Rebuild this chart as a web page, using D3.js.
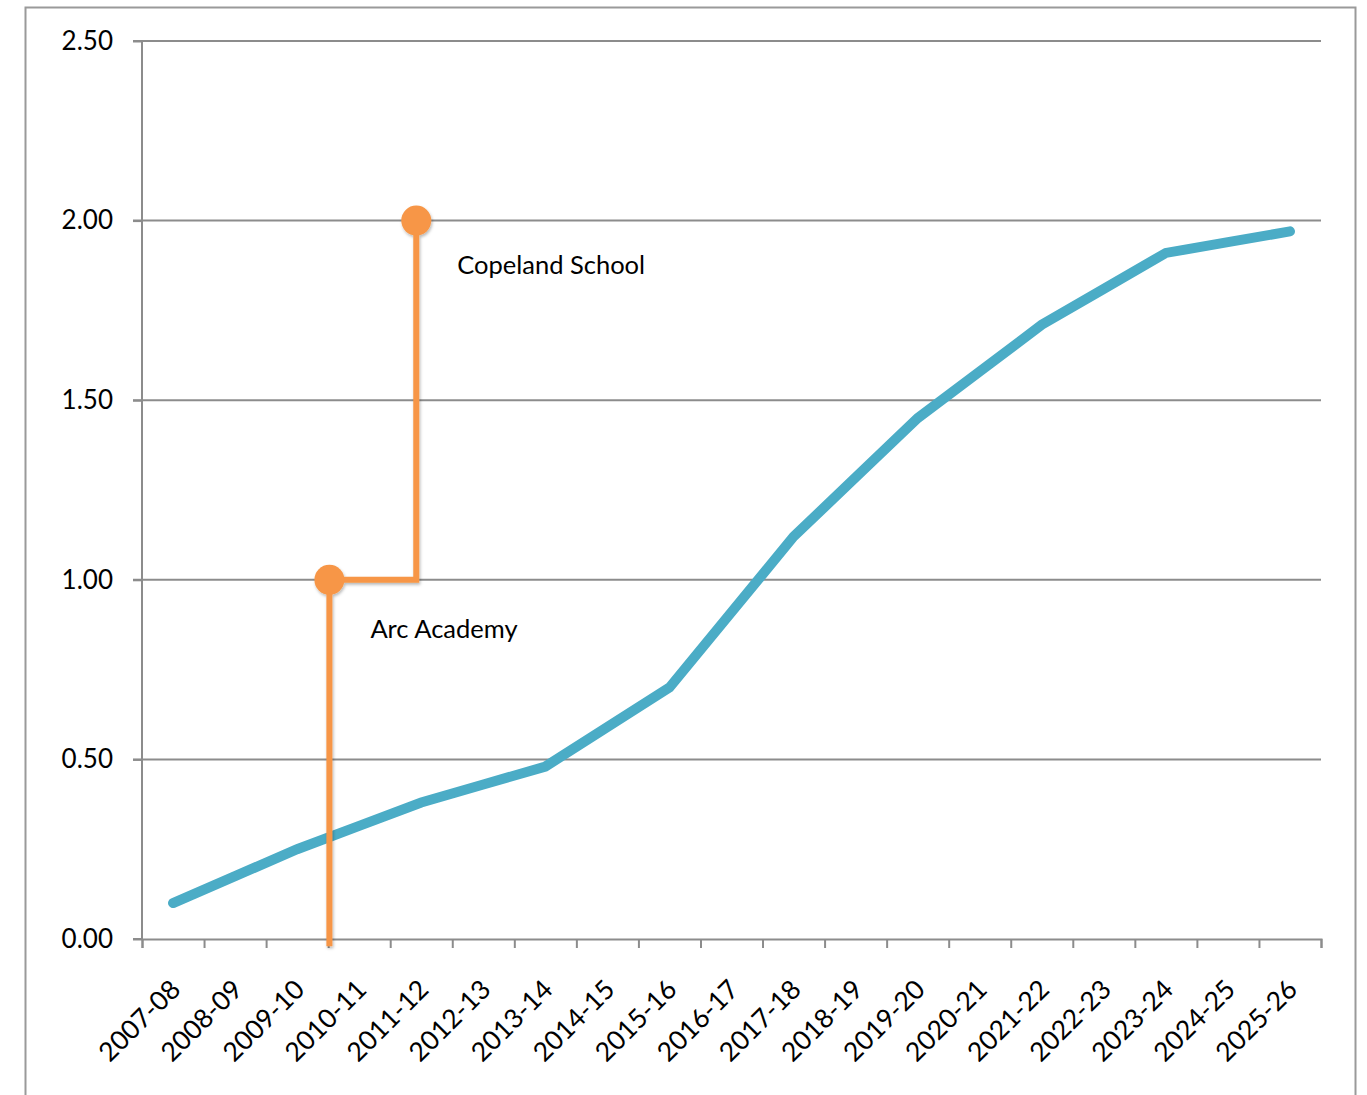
<!DOCTYPE html>
<html>
<head>
<meta charset="utf-8">
<script src="https://cdn.jsdelivr.net/npm/d3@7"></script>
<style>
  html, body { margin: 0; padding: 0; background: #fff; }
  svg { display: block; }
  text { font-family: Lato, "Open Sans", sans-serif; fill: #000; }
</style>
</head>
<body>
<svg id="chart" width="1367" height="1095"></svg>
<script>
// ---- data ----
const categories = ["2007-08","2008-09","2009-10","2010-11","2011-12","2012-13","2013-14",
  "2014-15","2015-16","2016-17","2017-18","2018-19","2019-20","2020-21","2021-22",
  "2022-23","2023-24","2024-25","2025-26"];
const values = [0.10, 0.175, 0.25, 0.315, 0.38, 0.43, 0.48, 0.59, 0.70, 0.91, 1.12,
  1.285, 1.45, 1.58, 1.71, 1.81, 1.91, 1.94, 1.97];
const yTicks = [0, 0.5, 1.0, 1.5, 2.0, 2.5];
const schoolNames = ["Arc Academy", "Copeland School"];
const schoolPos = [3.02, 4.42];      // position along the category axis (category index units)
const schoolValues = [1.0, 2.0];
const stepStart = -0.02;             // orange line starts just below zero

// ---- layout ----
const svg = d3.select("#chart");
const mLeft = 142, mRight = 1321, mTop = 41, mBottom = 939;
const labelDy = [52, 47];

const x = d3.scaleLinear().domain([0, categories.length]).range([mLeft, mRight]);
const y = d3.scaleLinear().domain([0, 2.5]).range([mBottom, mTop]);

// outer frame
svg.append("rect")
  .attr("x", 25.5).attr("y", 7.5).attr("width", 1330).attr("height", 1200)
  .attr("fill", "none").attr("stroke", "#9a9a9a").attr("stroke-width", 2);

// drop shadow filter
const defs = svg.append("defs");
const f = defs.append("filter").attr("id", "shadow").attr("x", "-50%").attr("y", "-50%")
  .attr("width", "200%").attr("height", "200%");
f.append("feDropShadow").attr("dx", 1).attr("dy", 2).attr("stdDeviation", 1.5)
  .attr("flood-color", "#000").attr("flood-opacity", 0.28);

// gridlines
svg.append("g").selectAll("line").data(yTicks.filter(d => d > 0)).join("line")
  .attr("x1", mLeft - 9).attr("x2", mRight)
  .attr("y1", d => y(d)).attr("y2", d => y(d))
  .attr("stroke", "#8c8c8c").attr("stroke-width", 2);

// y axis
const yAxis = d3.axisLeft(y).tickValues(yTicks).tickFormat(d3.format(".2f")).tickSize(9).tickPadding(20);
const gy = svg.append("g").attr("transform", `translate(${mLeft},0)`).call(yAxis);
gy.select(".domain").attr("stroke", "#8c8c8c").attr("stroke-width", 2).attr("d", `M-9,${mBottom}H0V${mTop}H-9`);
gy.selectAll(".tick line").attr("stroke", "#8c8c8c").attr("stroke-width", 2);
gy.selectAll(".tick text").attr("font-size", 26).attr("font-family", "Lato, sans-serif").attr("fill", "#000");

// x axis (category boundaries as ticks)
const xAxis = d3.axisBottom(x).tickValues(d3.range(0, categories.length + 1)).tickFormat("").tickSize(9).tickSizeOuter(9);
const gx = svg.append("g").attr("transform", `translate(0,${mBottom})`).call(xAxis);
gx.select(".domain").attr("stroke", "#8c8c8c").attr("stroke-width", 2);
gx.selectAll(".tick line").attr("stroke", "#8c8c8c").attr("stroke-width", 2);

// rotated category labels
svg.append("g").selectAll("text").data(categories).join("text")
  .attr("transform", (d, i) => `translate(${x(i + 0.5) + 9},${mBottom + 52}) rotate(-45)`)
  .attr("text-anchor", "end")
  .attr("font-size", 26.5)
  .text(d => d);

// blue line
const line = d3.line().x((d, i) => x(i + 0.5)).y(d => y(d));
svg.append("path").datum(values)
  .attr("d", line)
  .attr("fill", "none").attr("stroke", "#4BACC6").attr("stroke-width", 10)
  .attr("stroke-linecap", "round").attr("stroke-linejoin", "miter");

// orange step line
const stepPts = [[schoolPos[0], stepStart], [schoolPos[0], schoolValues[0]],
                 [schoolPos[1], schoolValues[0]], [schoolPos[1], schoolValues[1]]];
const og = svg.append("g").attr("filter", "url(#shadow)");
og.append("path").datum(stepPts)
  .attr("d", d3.line().x(d => x(d[0])).y(d => y(d[1])))
  .attr("fill", "none").attr("stroke", "#F79646").attr("stroke-width", 6)
  .attr("stroke-linejoin", "miter");
og.selectAll("circle").data(schoolNames).join("circle")
  .attr("cx", (d, i) => x(schoolPos[i])).attr("cy", (d, i) => y(schoolValues[i]))
  .attr("r", 15).attr("fill", "#F79646");

// annotations
svg.append("g").selectAll("text").data(schoolNames).join("text")
  .attr("x", (d, i) => x(schoolPos[i]) + 41)
  .attr("y", (d, i) => y(schoolValues[i]) + labelDy[i] + 6)
  .attr("font-size", 25.5)
  .text(d => d);
</script>
</body>
</html>
